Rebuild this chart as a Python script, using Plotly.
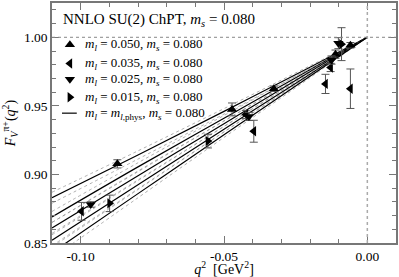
import plotly.graph_objects as go

# ---------------- data ----------------
# ml = 0.050 (triangle-up)
q2_050 = [-0.0872, -0.0472, -0.0326, -0.0111, -0.0059]
F_050 = [0.9077, 0.9474, 0.9625, 0.9877, 0.9942]
E_050 = [0.003, 0.0047, 0.002, 0.003, 0.002]
# ml = 0.035 (triangle-left)
q2_035 = [-0.0997, -0.0424, -0.0396, -0.0146, -0.0128, -0.0059]
F_035 = [0.8731, 0.9437, 0.9315, 0.9660, 0.9780, 0.9625]
E_035 = [0.0065, 0.003, 0.008, 0.007, 0.003, 0.0144]
# ml = 0.025 (triangle-down)
q2_025 = [-0.0965, -0.0413, -0.0125, -0.0101]
F_025 = [0.8781, 0.9423, 0.9834, 0.9957]
E_025 = [0.002, 0.003, 0.003, 0.004]
# ml = 0.015 (triangle-right)
q2_015 = [-0.0899, -0.0556, -0.0090]
F_015 = [0.8789, 0.9243, 0.9950]
E_015 = [0.006, 0.005, 0.012]

# fit curves (central) and error bands
q2_curve = [-0.11, -0.08, -0.05, -0.02, 0.0]
fit_050 = [0.883, 0.9142, 0.946, 0.9782, 1.0]
fit_035 = [0.869, 0.9055, 0.941, 0.9763, 1.0]
fit_025 = [0.861, 0.899, 0.937, 0.9748, 1.0]
fit_015 = [0.852, 0.8925, 0.933, 0.9731, 1.0]
fit_phys = [0.843, 0.886, 0.929, 0.9715, 1.0]
band_halfwidth = [0.004, 0.003, 0.002, 0.001, 0.0]

legend_title = "NNLO SU(2) ChPT, <i>m</i><sub><i>s</i></sub> = 0.080"
legend_labels = [
    "<i>m</i><sub><i>l</i></sub> = 0.050, <i>m</i><sub><i>s</i></sub> = 0.080",
    "<i>m</i><sub><i>l</i></sub> = 0.035, <i>m</i><sub><i>s</i></sub> = 0.080",
    "<i>m</i><sub><i>l</i></sub> = 0.025, <i>m</i><sub><i>s</i></sub> = 0.080",
    "<i>m</i><sub><i>l</i></sub> = 0.015, <i>m</i><sub><i>s</i></sub> = 0.080",
    "<i>m</i><sub><i>l</i></sub> = <i>m</i><sub><i>l</i>,phys</sub>, <i>m</i><sub><i>s</i></sub> = 0.080",
]
x_ticks = [-0.10, -0.05, 0.00]
y_ticks = [0.85, 0.90, 0.95, 1.00]

FONT = "Liberation Serif, Times New Roman, serif"
fig = go.Figure()

# curves with dotted error bands
for fit in [fit_050, fit_035, fit_025, fit_015, fit_phys]:
    for sgn in (1, -1):
        fig.add_trace(go.Scatter(
            x=q2_curve, y=[f + sgn * h for f, h in zip(fit, band_halfwidth)],
            mode="lines", line=dict(color="#9a9a9a", width=0.8, dash="dot", shape="spline"),
            showlegend=False, hoverinfo="skip"))
    fig.add_trace(go.Scatter(
        x=q2_curve, y=fit, mode="lines",
        line=dict(color="black", width=1.2, shape="spline"),
        showlegend=False, hoverinfo="skip"))

series = [
    (q2_050, F_050, E_050, "triangle-up"),
    (q2_035, F_035, E_035, "triangle-left"),
    (q2_025, F_025, E_025, "triangle-down"),
    (q2_015, F_015, E_015, "triangle-right"),
]
for xs, ys, es, sym in series:
    fig.add_trace(go.Scatter(
        x=xs, y=ys, mode="markers",
        marker=dict(symbol=sym, size=9, color="black"),
        error_y=dict(type="data", array=es, visible=True, color="#555555", thickness=1, width=4),
        showlegend=False))

# dotted reference lines
fig.add_shape(type="line", xref="paper", yref="y", x0=0, x1=1, y0=1.0, y1=1.0,
              line=dict(color="#888888", width=1, dash="dot"))
fig.add_shape(type="line", xref="x", yref="paper", x0=0, x1=0, y0=0, y1=1,
              line=dict(color="#aaaaaa", width=1.5, dash="dot"))

# legend drawn on a hidden overlay axis
leg_y = [0.826, 0.748, 0.682, 0.607, 0.541]
leg_syms = ["triangle-up", "triangle-left", "triangle-down", "triangle-right"]
for i, sym in enumerate(leg_syms):
    fig.add_trace(go.Scatter(x=[0.052], y=[leg_y[i]], xaxis="x2", yaxis="y2", mode="markers",
                             marker=dict(symbol=sym, size=9, color="black"),
                             showlegend=False, hoverinfo="skip"))
fig.add_trace(go.Scatter(x=[0.029, 0.072], y=[leg_y[4], leg_y[4]], xaxis="x2", yaxis="y2", mode="lines",
                         line=dict(color="black", width=1.2), showlegend=False, hoverinfo="skip"))
for i, lab in enumerate(legend_labels):
    fig.add_annotation(x=0.09, y=leg_y[i], xref="x2", yref="y2", text=lab, showarrow=False,
                       xanchor="left", yanchor="middle", font=dict(family=FONT, size=13, color="black"))
fig.add_annotation(x=0.027, y=0.93, xref="x2", yref="y2", text=legend_title, showarrow=False,
                   xanchor="left", yanchor="middle", font=dict(family=FONT, size=15, color="black"))

axis_common = dict(showline=True, linecolor="#777777", linewidth=1.5, mirror="ticks",
                   ticks="inside", ticklen=7, tickcolor="#777777", tickwidth=1,
                   showgrid=False, zeroline=False,
                   tickfont=dict(family=FONT, size=13.5, color="black"),
                   minor=dict(ticks="inside", ticklen=4, tickcolor="#777777", dtick=0.01))

fig.update_layout(
    width=399, height=277,
    margin=dict(l=52, r=2, t=1, b=34),
    paper_bgcolor="white", plot_bgcolor="white",
    xaxis=dict(range=[-0.11, 0.01], tickvals=x_ticks, ticktext=["-0.10", "-0.05", "0.00"],
               title=dict(text="<i>q</i><sup>2</sup>  [GeV<sup>2</sup>]", standoff=0,
                          font=dict(family=FONT, size=14, color="black")),
               **axis_common),
    yaxis=dict(range=[0.85, 1.025], tickvals=y_ticks, ticktext=["0.85", "0.90", "0.95", "1.00"],
               title=dict(text="<i>F</i><sub><i>V</i></sub><sup>π+</sup>(<i>q</i><sup>2</sup>)", standoff=6,
                          font=dict(family=FONT, size=14, color="black")),
               **axis_common),
    xaxis2=dict(range=[0, 1], overlaying="x", visible=False),
    yaxis2=dict(range=[0, 1], overlaying="y", visible=False),
)

fig.write_html("out.html", config={"displayModeBar": False},
               post_script="document.body.style.margin='0';document.body.style.padding='0';")
